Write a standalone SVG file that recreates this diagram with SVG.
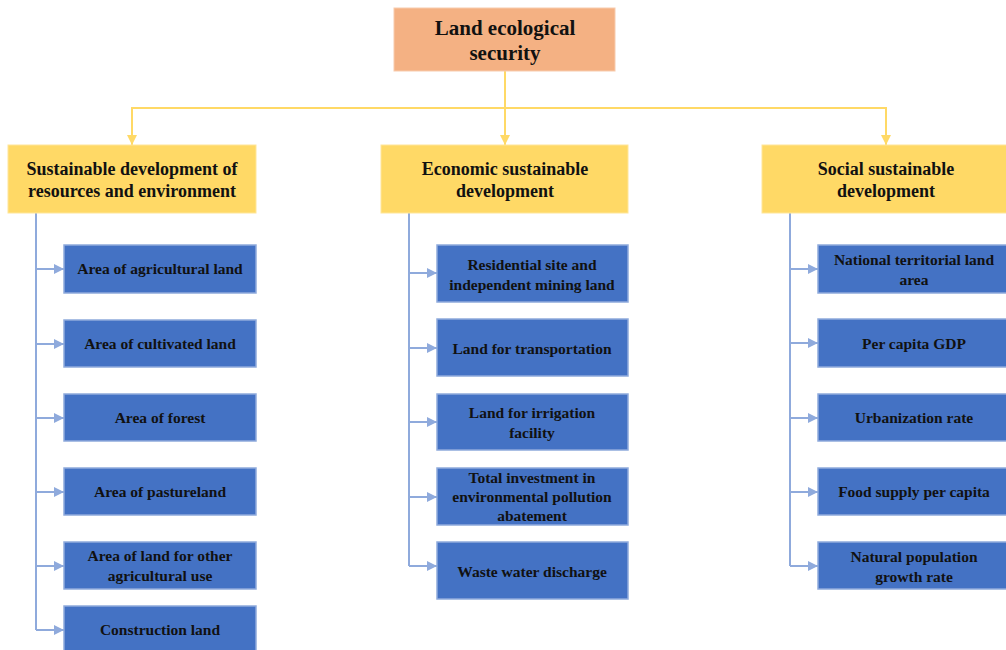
<svg xmlns="http://www.w3.org/2000/svg" width="1006" height="650" viewBox="0 0 1006 650">
<style>
text{font-family:"Liberation Serif","Times New Roman",serif;font-weight:bold;fill:#111;text-anchor:middle}
.top{fill:#F4B183;stroke:#F8CBAD;stroke-width:1}
.mid{fill:#FFD966;stroke:#FFE699;stroke-width:1}
.leaf{fill:#4472C4;stroke:#8FAADC;stroke-width:1.5}
.t1{font-size:21px}
.t2{font-size:18px}
.t3{font-size:15.5px}
.cy{fill:none;stroke:#FFD966;stroke-width:2}
.cb{fill:none;stroke:#8FAADC;stroke-width:2}
</style>
<defs>
<marker id="ay" viewBox="0 0 10 10" refX="10" refY="5" markerWidth="5" markerHeight="5" orient="auto" markerUnits="strokeWidth"><path d="M0,0 L10,5 L0,10 z" fill="#FFD966"/></marker>
<marker id="ab" viewBox="0 0 10 10" refX="10" refY="5" markerWidth="5" markerHeight="5" orient="auto" markerUnits="strokeWidth"><path d="M0,0 L10,5 L0,10 z" fill="#8FAADC"/></marker>
</defs>
<g id="connectors">
<path class="cy" d="M505,71 V145" marker-end="url(#ay)"/>
<path class="cy" d="M132,145 V108 H886 V145"/>
<path class="cy" d="M132,135 V145" marker-end="url(#ay)"/>
<path class="cy" d="M886,135 V145" marker-end="url(#ay)"/>
<path class="cb" d="M36,213 V630"/>
<path class="cb" d="M36,269 H64" marker-end="url(#ab)"/>
<path class="cb" d="M36,344 H64" marker-end="url(#ab)"/>
<path class="cb" d="M36,418 H64" marker-end="url(#ab)"/>
<path class="cb" d="M36,492 H64" marker-end="url(#ab)"/>
<path class="cb" d="M36,566 H64" marker-end="url(#ab)"/>
<path class="cb" d="M36,630 H64" marker-end="url(#ab)"/>
<path class="cb" d="M409,213 V566"/>
<path class="cb" d="M409,273 H437" marker-end="url(#ab)"/>
<path class="cb" d="M409,348 H437" marker-end="url(#ab)"/>
<path class="cb" d="M409,422 H437" marker-end="url(#ab)"/>
<path class="cb" d="M409,497 H437" marker-end="url(#ab)"/>
<path class="cb" d="M409,566 H437" marker-end="url(#ab)"/>
<path class="cb" d="M790,213 V566"/>
<path class="cb" d="M790,269 H818" marker-end="url(#ab)"/>
<path class="cb" d="M790,343 H818" marker-end="url(#ab)"/>
<path class="cb" d="M790,418 H818" marker-end="url(#ab)"/>
<path class="cb" d="M790,492 H818" marker-end="url(#ab)"/>
<path class="cb" d="M790,566 H818" marker-end="url(#ab)"/>
</g>
<g id="root"><rect class="top" x="394" y="8" width="221" height="63"/><text class="t1" x="505" y="35">Land ecological</text><text class="t1" x="505" y="60">security</text></g>
<g id="m1"><rect class="mid" x="8" y="145" width="248" height="68"/><text class="t2" x="132" y="175">Sustainable development of</text><text class="t2" x="132" y="197">resources and environment</text></g>
<g id="m2"><rect class="mid" x="381" y="145" width="247" height="68"/><text class="t2" x="505" y="175">Economic sustainable</text><text class="t2" x="505" y="197">development</text></g>
<g id="m3"><rect class="mid" x="762" y="145" width="246" height="68"/><text class="t2" x="886" y="175">Social sustainable</text><text class="t2" x="886" y="197">development</text></g>
<g id="a1"><rect class="leaf" x="64" y="245" width="192" height="48"/><text class="t3" x="160" y="274">Area of agricultural land</text></g>
<g id="a2"><rect class="leaf" x="64" y="320" width="192" height="47"/><text class="t3" x="160" y="349">Area of cultivated land</text></g>
<g id="a3"><rect class="leaf" x="64" y="394" width="192" height="47"/><text class="t3" x="160" y="423">Area of forest</text></g>
<g id="a4"><rect class="leaf" x="64" y="468" width="192" height="47"/><text class="t3" x="160" y="497">Area of pastureland</text></g>
<g id="a5"><rect class="leaf" x="64" y="542" width="192" height="47"/><text class="t3" x="160" y="561">Area of land for other</text><text class="t3" x="160" y="581">agricultural use</text></g>
<g id="a6"><rect class="leaf" x="64" y="606" width="192" height="50"/><text class="t3" x="160" y="635">Construction land</text></g>
<g id="b1"><rect class="leaf" x="437" y="245" width="191" height="57"/><text class="t3" x="532" y="270">Residential site and</text><text class="t3" x="532" y="290">independent mining land</text></g>
<g id="b2"><rect class="leaf" x="437" y="319" width="191" height="57"/><text class="t3" x="532" y="354">Land for transportation</text></g>
<g id="b3"><rect class="leaf" x="437" y="394" width="191" height="56"/><text class="t3" x="532" y="418">Land for irrigation</text><text class="t3" x="532" y="438">facility</text></g>
<g id="b4"><rect class="leaf" x="437" y="468" width="191" height="57"/><text class="t3" x="532" y="483">Total investment in</text><text class="t3" x="532" y="502">environmental pollution</text><text class="t3" x="532" y="521">abatement</text></g>
<g id="b5"><rect class="leaf" x="437" y="542" width="191" height="57"/><text class="t3" x="532" y="577">Waste water discharge</text></g>
<g id="c1"><rect class="leaf" x="818" y="245" width="192" height="48"/><text class="t3" x="914" y="265">National territorial land</text><text class="t3" x="914" y="285">area</text></g>
<g id="c2"><rect class="leaf" x="818" y="319" width="192" height="48"/><text class="t3" x="914" y="349">Per capita GDP</text></g>
<g id="c3"><rect class="leaf" x="818" y="394" width="192" height="47"/><text class="t3" x="914" y="423">Urbanization rate</text></g>
<g id="c4"><rect class="leaf" x="818" y="468" width="192" height="47"/><text class="t3" x="914" y="497">Food supply per capita</text></g>
<g id="c5"><rect class="leaf" x="818" y="542" width="192" height="47"/><text class="t3" x="914" y="562">Natural population</text><text class="t3" x="914" y="582">growth rate</text></g>
</svg>
